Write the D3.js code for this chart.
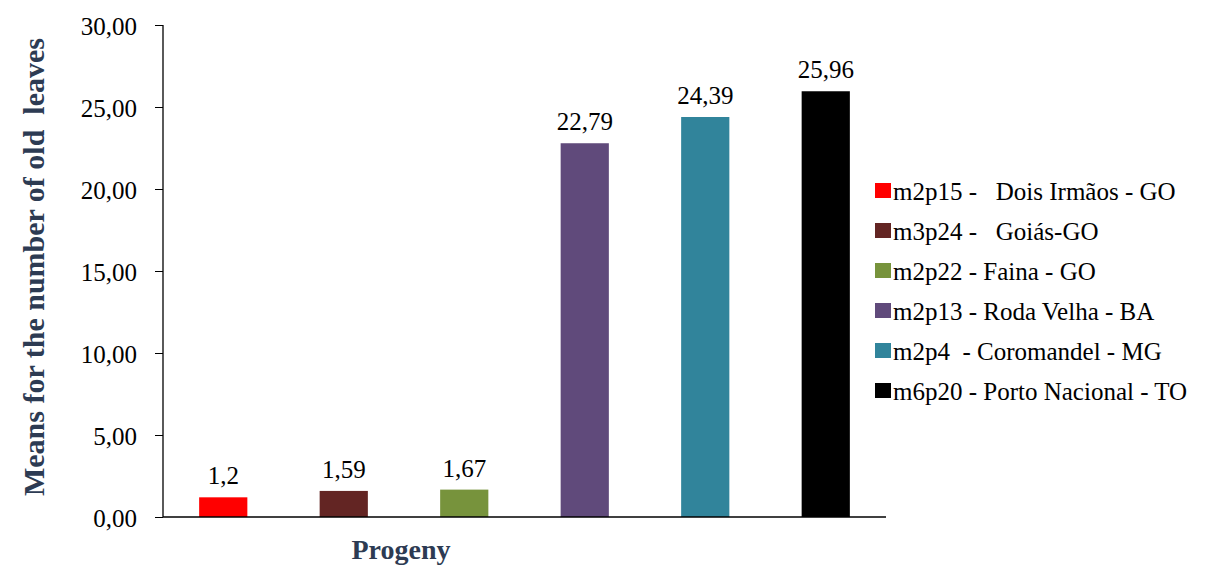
<!DOCTYPE html>
<html>
<head>
<meta charset="utf-8">
<script src="https://cdn.jsdelivr.net/npm/d3@7"></script>
<style>
  body { margin: 0; background: #fff; }
</style>
</head>
<body>
<svg id="chart" width="1226" height="568"></svg>
<script>
// progeny (legend labels), means and bar colours
const progeny = [
  "m2p15 -   Dois Irmãos - GO",
  "m3p24 -   Goiás-GO",
  "m2p22 - Faina - GO",
  "m2p13 - Roda Velha - BA",
  "m2p4  - Coromandel - MG",
  "m6p20 - Porto Nacional - TO"
];
const means = [1.2, 1.59, 1.67, 22.79, 24.39, 25.96];
const meanLabels = ["1,2", "1,59", "1,67", "22,79", "24,39", "25,96"];
const colors = ["#ff0000", "#632523", "#77933c", "#604a7b", "#31849b", "#000000"];
const yTicks = [0, 5, 10, 15, 20, 25, 30];

const serif = "'Liberation Serif'";
const svg = d3.select("#chart");
const plotLeft = 163, plotRight = 886, plotTop = 25, plotBottom = 517;
const titleColor = "#2d3b53";

const x = d3.scaleBand()
  .domain(progeny)
  .range([plotLeft, plotRight])
  .paddingInner(0.6)
  .paddingOuter(0.3);

const y = d3.scaleLinear().domain([0, 30]).range([plotBottom, plotTop]);

const fmt = d => d3.format(".2f")(d).replace(".", ",");

// y axis
const yAxis = svg.append("g")
  .attr("transform", "translate(" + plotLeft + ",0)")
  .call(d3.axisLeft(y).tickValues(yTicks).tickSize(8).tickPadding(18).tickFormat(fmt))
  .attr("font-family", null)
  .attr("font-size", null);
yAxis.select(".domain").attr("stroke", "#000").attr("stroke-width", 1.3).attr("d", "M0," + plotTop + "V" + plotBottom);
yAxis.selectAll(".tick line").attr("stroke", "#000").attr("stroke-width", 1);
yAxis.selectAll(".tick text")
  .attr("fill", "#000")
  .attr("dy", "0.36em")
  .attr("style", "font-family:" + serif + ";font-size:25px");

// bars
svg.append("g")
  .selectAll("rect")
  .data(means)
  .join("rect")
  .attr("x", (d, i) => x(progeny[i]))
  .attr("y", d => y(d))
  .attr("width", x.bandwidth())
  .attr("height", d => y(0) - y(d))
  .attr("fill", (d, i) => colors[i]);

// value labels
svg.append("g")
  .selectAll("text")
  .data(means)
  .join("text")
  .attr("x", (d, i) => x(progeny[i]) + x.bandwidth() / 2)
  .attr("y", d => y(d) - 13)
  .attr("text-anchor", "middle")
  .attr("style", "font-family:" + serif + ";font-size:25px")
  .text((d, i) => meanLabels[i]);

// x axis line
svg.append("line")
  .attr("x1", plotLeft).attr("x2", plotRight)
  .attr("y1", y(0)).attr("y2", y(0))
  .attr("stroke", "#000").attr("stroke-width", 1.5);

// axis titles
svg.append("text")
  .attr("transform", "translate(44,267) rotate(-90)")
  .attr("text-anchor", "middle")
  .attr("fill", titleColor)
  .attr("style", "font-family:" + serif + ";font-size:30px;font-weight:bold;white-space:pre")
  .text("Means for the number of old  leaves");

svg.append("text")
  .attr("x", 401)
  .attr("y", 559)
  .attr("text-anchor", "middle")
  .attr("fill", titleColor)
  .attr("style", "font-family:" + serif + ";font-size:28px;font-weight:bold")
  .text("Progeny");

// legend
const legend = svg.append("g")
  .selectAll("g")
  .data(progeny)
  .join("g")
  .attr("transform", (d, i) => "translate(875," + (183 + i * 40) + ")");

legend.append("rect")
  .attr("width", 16)
  .attr("height", 15)
  .attr("fill", (d, i) => colors[i]);

legend.append("text")
  .attr("x", 18)
  .attr("y", 17)
  .attr("style", "font-family:" + serif + ";font-size:25px;white-space:pre")
  .text(d => d);
</script>
</body>
</html>
